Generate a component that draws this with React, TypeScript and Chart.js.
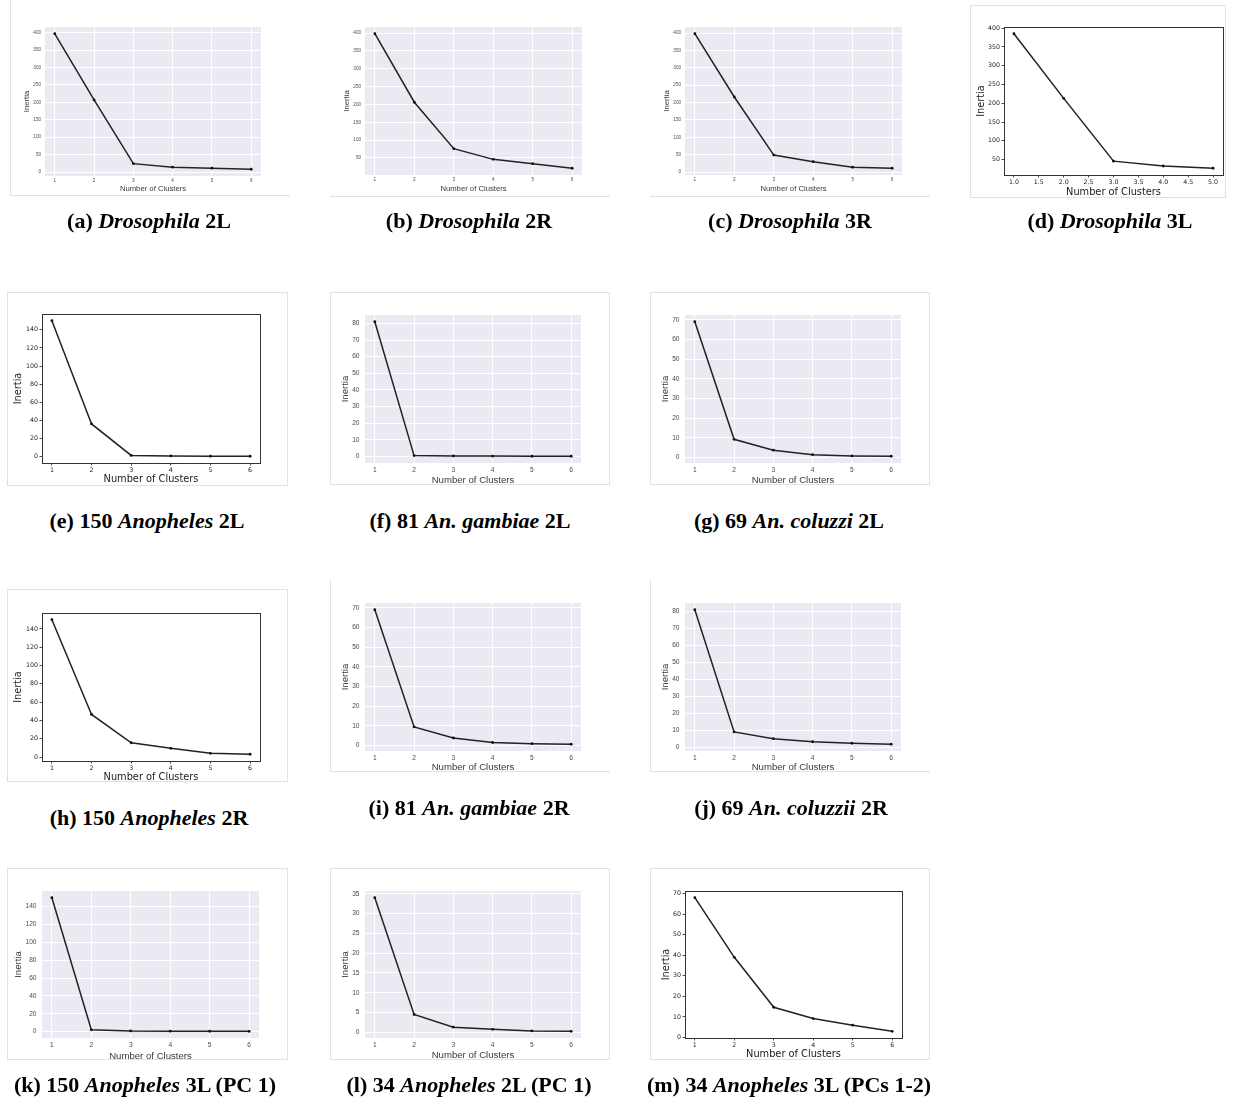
import React, { useEffect, useRef } from "react";
import { Chart, registerables } from "chart.js";
Chart.register(...registerables);

// ---------- data ----------
const clusters6 = [1, 2, 3, 4, 5, 6];
const clusters5 = [1, 2, 3, 4, 5];

const inertiaDroso2L = [397, 207, 24, 14, 11, 8];
const inertiaDroso2R = [398, 206, 76, 46, 34, 21];
const inertiaDroso3R = [398, 216, 49, 30, 14, 11];
const inertiaDroso3L = [385, 213, 46, 33, 27];
const inertiaAnoph150_2L = [150, 36, 1.2, 0.6, 0.4, 0.3];
const inertiaGamb81_2L = [81, 0.5, 0.3, 0.2, 0.1, 0.1];
const inertiaColu69_2L = [69, 9.3, 3.8, 1.5, 0.9, 0.7];
const inertiaAnoph150_2R = [150, 46.5, 15.6, 9.5, 4, 3];
const inertiaGamb81_2R = [69, 9.4, 3.8, 1.5, 0.9, 0.6];
const inertiaColu69_2R = [81, 9, 5, 3.2, 2.3, 1.7];
const inertiaAnoph150_3L = [150, 2, 0.7, 0.5, 0.4, 0.3];
const inertiaAnoph34_2L = [34, 4.5, 1.3, 0.75, 0.35, 0.25];
const inertiaAnoph34_3L = [68, 39, 14.7, 9.2, 6, 3];

const xTicks6 = [1, 2, 3, 4, 5, 6];
const xTicksHalf = [1, 1.5, 2, 2.5, 3, 3.5, 4, 4.5, 5];
const yTicks0to400 = [0, 50, 100, 150, 200, 250, 300, 350, 400];
const yTicks50to400 = [50, 100, 150, 200, 250, 300, 350, 400];
const yTicks0to140 = [0, 20, 40, 60, 80, 100, 120, 140];
const yTicks0to80 = [0, 10, 20, 30, 40, 50, 60, 70, 80];
const yTicks0to70 = [0, 10, 20, 30, 40, 50, 60, 70];
const yTicks0to35 = [0, 5, 10, 15, 20, 25, 30, 35];

const xTitle = "Number of Clusters";
const yTitle = "Inertia";

// ---------- layout ----------
interface PanelSpec {
  xs: number[];
  ys: number[];
  xTicks: number[];
  yTicks: number[];
  sea: boolean;
  rect: [number, number, number, number];
  tickSize: number;
  titleSize: number;
  yTitleX: number;
  xTitleY: number;
  xDec: number;
  xPad: number;
  yPad: number;
}

const SMALL = { tickSize: 4.6, titleSize: 7.7, xPad: 2.3, yPad: 4 };
const SEA = { tickSize: 6.6, titleSize: 9.6, xPad: 3, yPad: 5.5 };
const CLS = { tickSize: 6.3, titleSize: 9.8, xPad: 1.5, yPad: 1.5 };

const panels: PanelSpec[] = [
  { xs: clusters6, ys: inertiaDroso2L, xTicks: xTicks6, yTicks: yTicks0to400, sea: true, rect: [45, 27, 261, 176], ...SMALL, yTitleX: 27, xTitleY: 189, xDec: 0 },
  { xs: clusters6, ys: inertiaDroso2R, xTicks: xTicks6, yTicks: yTicks50to400, sea: true, rect: [365, 27, 582, 175], ...SMALL, yTitleX: 347, xTitleY: 189, xDec: 0 },
  { xs: clusters6, ys: inertiaDroso3R, xTicks: xTicks6, yTicks: yTicks0to400, sea: true, rect: [685, 27, 902, 175], ...SMALL, yTitleX: 667, xTitleY: 189, xDec: 0 },
  { xs: clusters5, ys: inertiaDroso3L, xTicks: xTicksHalf, yTicks: yTicks50to400, sea: false, rect: [1004, 27, 1223, 175], ...CLS, yTitleX: 981, xTitleY: 192, xDec: 1 },
  { xs: clusters6, ys: inertiaAnoph150_2L, xTicks: xTicks6, yTicks: yTicks0to140, sea: false, rect: [42, 314, 260, 463], ...CLS, yTitleX: 18, xTitleY: 479, xDec: 0 },
  { xs: clusters6, ys: inertiaGamb81_2L, xTicks: xTicks6, yTicks: yTicks0to80, sea: true, rect: [365, 315, 581, 463], ...SEA, yTitleX: 345, xTitleY: 480, xDec: 0 },
  { xs: clusters6, ys: inertiaColu69_2L, xTicks: xTicks6, yTicks: yTicks0to70, sea: true, rect: [685, 315, 901, 463], ...SEA, yTitleX: 665, xTitleY: 480, xDec: 0 },
  { xs: clusters6, ys: inertiaAnoph150_2R, xTicks: xTicks6, yTicks: yTicks0to140, sea: false, rect: [42, 613, 260, 761], ...CLS, yTitleX: 18, xTitleY: 777, xDec: 0 },
  { xs: clusters6, ys: inertiaGamb81_2R, xTicks: xTicks6, yTicks: yTicks0to70, sea: true, rect: [365, 603, 581, 751], ...SEA, yTitleX: 345, xTitleY: 767, xDec: 0 },
  { xs: clusters6, ys: inertiaColu69_2R, xTicks: xTicks6, yTicks: yTicks0to80, sea: true, rect: [685, 603, 901, 751], ...SEA, yTitleX: 665, xTitleY: 767, xDec: 0 },
  { xs: clusters6, ys: inertiaAnoph150_3L, xTicks: xTicks6, yTicks: yTicks0to140, sea: true, rect: [42, 891, 259, 1038], ...SEA, yTitleX: 18, xTitleY: 1056, xDec: 0 },
  { xs: clusters6, ys: inertiaAnoph34_2L, xTicks: xTicks6, yTicks: yTicks0to35, sea: true, rect: [365, 891, 581, 1038], ...SEA, yTitleX: 345, xTitleY: 1055, xDec: 0 },
  { xs: clusters6, ys: inertiaAnoph34_3L, xTicks: xTicks6, yTicks: yTicks0to70, sea: false, rect: [685, 891, 902, 1038], ...CLS, yTitleX: 666, xTitleY: 1054, xDec: 0 },
];

// image edge lines [x1, y1, x2, y2]
const edgeBoxes: [number, number, number, number, string][] = [
  [10, 0, 290, 196, "lb"],
  [330, 0, 610, 197, "b"],
  [650, 0, 930, 197, "b"],
  [970, 5, 1226, 198, "lrtb"],
  [7, 292, 288, 486, "lrtb"],
  [330, 292, 610, 485, "lrtb"],
  [650, 292, 930, 485, "lrtb"],
  [7, 589, 288, 782, "lrtb"],
  [330, 580, 610, 772, "lb"],
  [650, 580, 930, 772, "lb"],
  [7, 868, 288, 1060, "lrtb"],
  [330, 868, 610, 1060, "lrtb"],
  [650, 868, 930, 1060, "lrtb"],
];

const PL = 50, PT = 15, PR = 15, PB = 40;

function lim(v: number[]): [number, number] {
  const mn = Math.min(...v), mx = Math.max(...v);
  const m = (mx - mn) * 0.05;
  return [mn - m, mx + m];
}

function Panel({ s }: { s: PanelSpec }) {
  const ref = useRef<HTMLCanvasElement>(null);
  const [l, t, r, b] = s.rect;
  const cl = l - PL, ct = t - PT;
  const cw = r - l + PL + PR, ch = b - t + PT + PB;
  useEffect(() => {
    const ctx = ref.current!.getContext("2d")!;
    const tickFam = s.sea ? "'Liberation Sans', Arial, sans-serif" : "'DejaVu Sans', sans-serif";
    const tickColor = s.sea ? "#4a4a4a" : "#222";
    const titleColor = s.sea ? "#3a3a3a" : "#1a1a1a";
    const lh = s.titleSize * 1.2;
    const [xmin, xmax] = lim(s.xs);
    const [ymin, ymax] = lim(s.ys);
    const gridOpt = s.sea
      ? { color: "#ffffff", lineWidth: 1, drawTicks: false, drawOnChartArea: true }
      : { display: true, drawOnChartArea: false, drawTicks: true, tickLength: 2.5, tickColor: "#222", tickWidth: 0.8 };
    const bgPlugin = {
      id: "bg",
      beforeDraw(chart: any) {
        const a = chart.chartArea;
        const c = chart.ctx;
        c.save();
        c.fillStyle = s.sea ? "#EAEAF2" : "#ffffff";
        c.fillRect(a.left, a.top, a.right - a.left, a.bottom - a.top);
        c.restore();
      },
      afterDraw(chart: any) {
        if (s.sea) return;
        const a = chart.chartArea;
        const c = chart.ctx;
        c.save();
        c.strokeStyle = "#333";
        c.lineWidth = 1;
        c.strokeRect(Math.round(a.left) + 0.5, Math.round(a.top) + 0.5, Math.round(a.right - a.left), Math.round(a.bottom - a.top));
        c.restore();
      },
    };
    const chart = new Chart(ctx, {
      type: "line",
      data: {
        datasets: [
          {
            data: s.xs.map((x, i) => ({ x, y: s.ys[i] })),
            borderColor: "#222",
            borderWidth: 1.5,
            pointRadius: 1.4,
            pointBackgroundColor: "#111",
            pointBorderWidth: 0,
            tension: 0,
          },
        ],
      },
      options: {
        responsive: false,
        animation: false,
        events: [],
        layout: { padding: { left: 0, top: PT, right: PR, bottom: 0 } },
        plugins: { legend: { display: false }, tooltip: { enabled: false } },
        scales: {
          x: {
            type: "linear",
            min: xmin,
            max: xmax,
            afterBuildTicks: (sc: any) => {
              sc.ticks = s.xTicks.map((v) => ({ value: v }));
            },
            afterFit: (sc: any) => {
              sc.height = PB;
            },
            ticks: {
              autoSkip: false,
              maxRotation: 0,
              padding: s.xPad,
              color: tickColor,
              font: { size: s.tickSize, family: tickFam },
              callback: (v: any) => Number(v).toFixed(s.xDec),
            },
            grid: gridOpt as any,
            border: { display: false },
            title: {
              display: true,
              text: xTitle,
              color: titleColor,
              font: { size: s.titleSize, family: tickFam },
              padding: { top: 0, bottom: b + PB - lh / 2 - s.xTitleY },
            },
          },
          y: {
            type: "linear",
            min: ymin,
            max: ymax,
            afterBuildTicks: (sc: any) => {
              sc.ticks = s.yTicks.map((v) => ({ value: v }));
            },
            afterFit: (sc: any) => {
              sc.width = PL;
            },
            ticks: {
              autoSkip: false,
              padding: s.yPad,
              color: tickColor,
              font: { size: s.tickSize, family: tickFam },
              callback: (v: any) => String(v),
            },
            grid: gridOpt as any,
            border: { display: false },
            title: {
              display: true,
              text: yTitle,
              color: titleColor,
              font: { size: s.titleSize, family: tickFam },
              padding: { top: s.yTitleX - cl - lh / 2, bottom: 0 },
            },
          },
        },
      },
      plugins: [bgPlugin],
    } as any);
    return () => chart.destroy();
  }, []);
  return (
    <canvas
      ref={ref}
      width={cw}
      height={ch}
      style={{ position: "absolute", left: cl, top: ct, width: cw, height: ch }}
    />
  );
}

const capStyle = (cx: number, cy: number): React.CSSProperties => ({
  position: "absolute",
  left: cx - 250,
  width: 500,
  top: cy - 14,
  height: 28,
  lineHeight: "28px",
  textAlign: "center",
  fontFamily: "'Liberation Serif', 'Times New Roman', serif",
  fontWeight: "bold",
  fontSize: 22,
  color: "#000",
  whiteSpace: "nowrap",
});

export default function App() {
  return (
    <div style={{ position: "absolute", left: 0, top: 0, width: 1238, height: 1099, background: "#fff", overflow: "hidden" }}>
      {edgeBoxes.map(([x1, y1, x2, y2, sides], i) => (
        <div
          key={"e" + i}
          style={{
            position: "absolute",
            left: x1,
            top: y1,
            width: x2 - x1,
            height: y2 - y1,
            boxSizing: "border-box",
            borderLeft: sides.includes("l") ? "1px solid #e2e2e2" : "none",
            borderRight: sides.includes("r") ? "1px solid #e2e2e2" : "none",
            borderTop: sides.includes("t") ? "1px solid #e2e2e2" : "none",
            borderBottom: sides.includes("b") ? "1px solid #e2e2e2" : "none",
          }}
        />
      ))}
      {panels.map((p, i) => (
        <Panel key={i} s={p} />
      ))}
      <div style={capStyle(149, 221)}>(a) <i>Drosophila</i> 2L</div>
      <div style={capStyle(469, 221)}>(b) <i>Drosophila</i> 2R</div>
      <div style={capStyle(790, 221)}>(c) <i>Drosophila</i> 3R</div>
      <div style={capStyle(1110, 221)}>(d) <i>Drosophila</i> 3L</div>
      <div style={capStyle(147, 521)}>(e) 150 <i>Anopheles</i> 2L</div>
      <div style={capStyle(470, 521)}>(f) 81 <i>An. gambiae</i> 2L</div>
      <div style={capStyle(789, 521)}>(g) 69 <i>An. coluzzi</i> 2L</div>
      <div style={capStyle(149, 818)}>(h) 150 <i>Anopheles</i> 2R</div>
      <div style={capStyle(469, 808)}>(i) 81 <i>An. gambiae</i> 2R</div>
      <div style={capStyle(791, 808)}>(j) 69 <i>An. coluzzii</i> 2R</div>
      <div style={capStyle(145, 1085)}>(k) 150 <i>Anopheles</i> 3L (PC 1)</div>
      <div style={capStyle(469, 1085)}>(l) 34 <i>Anopheles</i> 2L (PC 1)</div>
      <div style={capStyle(789, 1085)}>(m) 34 <i>Anopheles</i> 3L (PCs 1-2)</div>
    </div>
  );
}
